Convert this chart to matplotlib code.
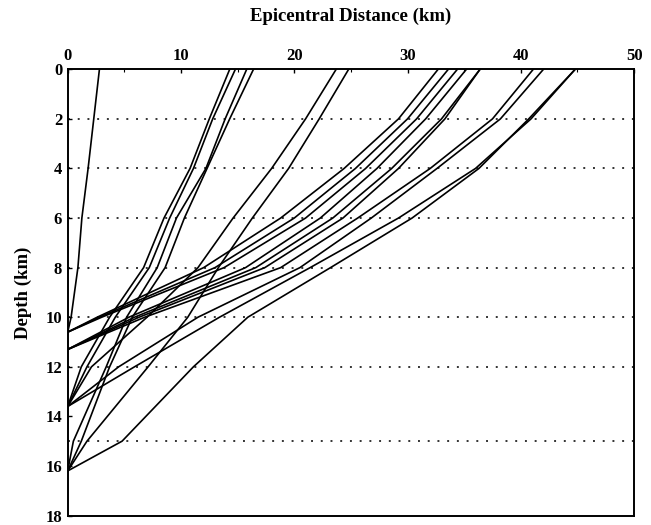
import matplotlib
matplotlib.use('Agg')
import matplotlib.pyplot as plt
import numpy as np

# layer boundaries (km) - dotted lines
layer_depths = [0, 2, 4, 6, 8, 10, 12, 15]
grid_depths = [2, 4, 6, 8, 10, 12, 15]

# source depths (km)
src_depths = [10.6, 11.3, 13.6, 16.2]

# ray crossings: x (km) at depth 0, 2, 4, ... down to last boundary above the source
rays_s1 = [[2.8, 2.3, 1.8, 1.25, 0.9, 0.3],
           [32.7, 29.2, 24.4, 18.8, 12.0, 2.6],
           [33.6, 30.0, 25.4, 20.0, 13.0, 2.8],
           [34.4, 30.8, 26.3, 21.0, 13.8, 3.0]]
rays_s2 = [[35.2, 31.6, 27.3, 22.3, 15.7, 5.4],
           [36.4, 33.0, 28.6, 23.4, 16.6, 5.9],
           [36.4, 33.3, 29.2, 24.3, 17.4, 6.3],
           [41.1, 37.5, 32.0, 25.6, 18.8, 6.8]]
rays_s3 = [[14.3, 12.5, 10.8, 8.5, 6.7, 3.7, 1.2],
           [14.8, 12.8, 11.1, 9.0, 7.2, 4.2, 1.7],
           [23.7, 21.0, 18.0, 14.6, 11.5, 7.0, 2.1],
           [42.0, 38.2, 32.6, 26.8, 20.5, 11.5, 4.5],
           [44.8, 40.9, 36.0, 29.2, 21.4, 13.4, 5.9]]
rays_s4 = [[15.8, 13.9, 12.2, 9.6, 7.9, 5.2, 3.4, 0.5],
           [16.4, 14.3, 12.3, 10.3, 8.6, 5.7, 3.7, 1.2],
           [24.8, 22.2, 19.5, 16.3, 13.3, 10.6, 7.1, 1.7],
           [44.8, 40.7, 36.3, 30.4, 23.2, 15.9, 11.1, 4.8]]

xticks = [0, 10, 20, 30, 40, 50]
yticks = [0, 2, 4, 6, 8, 10, 12, 14, 16, 18]

plt.rcParams['font.family'] = ['Liberation Serif', 'DejaVu Serif']
plt.rcParams['font.weight'] = 'bold'

fig = plt.figure(figsize=(6.51, 5.25), dpi=100)
ax = fig.add_axes([0.104, 0.018, 0.870, 0.850])

for z in grid_depths:
    ax.axhline(z, color='#333333', lw=1.4, ls=(0, (1, 4.0)), zorder=1)

for rays, h in zip([rays_s1, rays_s2, rays_s3, rays_s4], src_depths):
    for xs in rays:
        zs = layer_depths[:len(xs)] + [h]
        ax.plot(list(xs) + [0], zs, color='black', lw=1.2, zorder=2)

ax.set_xlim(0, 50)
ax.set_ylim(18, 0)
ax.xaxis.tick_top()
ax.set_xticks(xticks)
ax.set_xticks(np.arange(5, 50, 10), minor=True)
ax.set_yticks(yticks)
ax.tick_params(axis='both', which='major', direction='in', length=3, width=1,
               labelsize=12, pad=4)
ax.tick_params(axis='x', which='minor', direction='in', length=2, width=0.8, top=True, bottom=False)
for lab in ax.get_xticklabels() + ax.get_yticklabels():
    lab.set_fontweight('bold')
for s in ax.spines.values():
    s.set_linewidth(1.4)

ax.set_xlabel('Epicentral Distance (km)', fontsize=13.5, fontweight='bold', labelpad=19)
ax.xaxis.set_label_position('top')
ax.set_ylabel('Depth (km)', fontsize=13.5, fontweight='bold', labelpad=10)

plt.savefig('out.png', dpi=100)
